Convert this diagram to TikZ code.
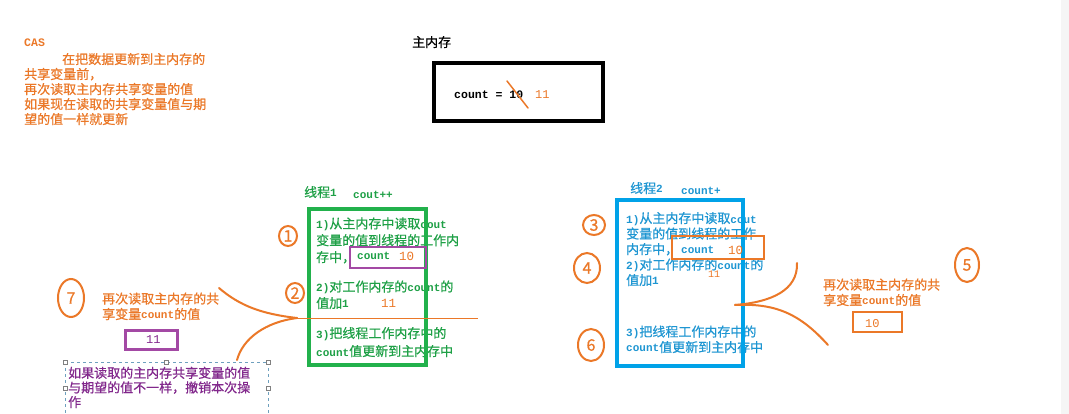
\documentclass[tikz,border=0pt]{standalone}
\usepackage{fontspec}
\setmainfont{Noto Sans CJK SC}[FakeBold=0.6]
\newfontfamily\monof{Liberation Mono}
\usetikzlibrary{shapes.geometric}
\definecolor{cOr}{RGB}{235,120,40}
\definecolor{cGr}{RGB}{34,177,76}
\definecolor{cGrT}{RGB}{30,160,70}
\definecolor{cBl}{RGB}{0,162,232}
\definecolor{cBlT}{RGB}{30,150,210}
\definecolor{cPu}{RGB}{163,73,164}
\definecolor{cPuT}{RGB}{130,40,140}
\definecolor{cSel}{RGB}{110,160,190}
\newcommand\lm[1]{{\monof\bfseries\fontsize{11}{11}\selectfont #1}}
\begin{document}
\begin{tikzpicture}[x=1pt,y=-1pt,
  txt/.style={anchor=base west, inner sep=0, align=left, font=\fontsize{13}{15.5}\selectfont},
  hand/.style={ellipse, draw=cOr, line width=2pt, text=cOr, inner sep=0,
     font=\fontsize{16}{16}\selectfont},
  stroke/.style={draw=cOr, line width=2pt, line cap=round},
  handle/.style={draw=gray, fill=white, line width=0.5pt, minimum size=4pt, inner sep=0, rectangle}]
\useasboundingbox (0,0) rectangle (1069,414);
\fill[white] (0,0) rectangle (1069,414);
\fill[gray!8] (1061,0) rectangle (1069,414);

% CAS explanation (multi-line nodes are placed at the baseline of their last line)
\node[txt, text=cOr, font=\monof\bfseries\fontsize{11.5}{11.5}\selectfont] (cas) at (24,47) {CAS};
\node[txt, text=cOr, font=\fontsize{13}{15}\selectfont] (casdesc) at (24,124) {\hspace*{38pt}在把数据更新到主内存的\\共享变量前，\\再次读取主内存共享变量的值\\如果现在读取的共享变量值与期\\望的值一样就更新};

% main memory
\node[txt] (mmtitle) at (412,47) {主内存};
\draw[line width=4pt] (434,63) rectangle (603,121);
\node[txt, font=\monof\bfseries\fontsize{11.5}{11.5}\selectfont] (mmcount) at (454,99) {count = 10};
\node[txt, text=cOr, font=\monof\fontsize{12}{12}\selectfont] (mm11) at (535,99) {11};
\coordinate (s1) at (507,81);
\coordinate (s2) at (528,108);
\draw[stroke, line width=1.5pt] (s1) -- (s2);

% thread 1
\node[txt, text=cGrT] (t1) at (304,197) {线程\lm{1}};
\node[txt, text=cGrT, font=\monof\bfseries\fontsize{11}{11}\selectfont] (t1op) at (353,199) {cout++};
\node[txt, text=cGrT, font=\fontsize{13}{16.8}\selectfont] (g1) at (316,262) {\lm{1)}从主内存中读取\lm{cout}\\变量的值到线程的工作内\\存中，};
\node[txt, text=cGrT, font=\fontsize{13}{16.5}\selectfont] (g2) at (316,308) {\lm{2)}对工作内存的\lm{count}的\\值加\lm{1}};
\node[txt, text=cGrT, font=\fontsize{13}{18}\selectfont] (g3) at (316,356) {\lm{3)}把线程工作内存中的\\\lm{count}值更新到主内存中};
\draw[cGr, line width=4pt] (309,209) rectangle (426,365);
\draw[cPu, line width=2.5pt] (350,247) rectangle (426,268);
\node[txt, text=cGrT, font=\monof\bfseries\fontsize{11}{11}\selectfont] (g1c) at (357,260) {count};
\node[txt, text=cOr, font=\monof\fontsize{12.5}{12.5}\selectfont] (g1v) at (399,261) {10};
\node[txt, text=cOr, font=\monof\fontsize{12.5}{12.5}\selectfont] (g2v) at (381,308) {11};
\coordinate (hl1) at (297,318);
\coordinate (hl2) at (478,318);
\draw[cOr, line width=0.8pt] (hl1) -- (hl2);

% thread 2
\node[txt, text=cBlT] (t2) at (630,193) {线程\lm{2}};
\node[txt, text=cBlT, font=\monof\bfseries\fontsize{11}{11}\selectfont] (t2op) at (681,195) {count+};
\node[txt, text=cBlT, font=\fontsize{13}{15.5}\selectfont] (b1) at (626,285) {\lm{1)}从主内存中读取\lm{cout}\\变量的值到线程的工作\\内存中，\\\lm{2)}对工作内存的\lm{count}的\\值加\lm{1}};
\node[txt, text=cBlT, font=\fontsize{13}{15.5}\selectfont] (b3) at (626,352) {\lm{3)}把线程工作内存中的\\\lm{count}值更新到主内存中};
\draw[cBl, line width=4pt] (617,200) rectangle (743,366);
\draw[cOr, line width=1.2pt] (672,236) rectangle (764,259);
\node[txt, text=cBlT, font=\monof\bfseries\fontsize{11}{11}\selectfont] (b1c) at (681,254) {count};
\node[txt, text=cOr, font=\monof\fontsize{12.5}{12.5}\selectfont] (b1v) at (728,255) {10};
\node[txt, text=cOr, font=\monof\fontsize{10}{10}\selectfont] (b2v) at (708,278) {11};

% right note
\node[txt, text=cOr] (rnote) at (823,305) {再次读取主内存的共\\享变量\lm{count}的值};
\draw[cOr, line width=1.3pt] (853,312) rectangle (902,332);
\node[txt, text=cOr, font=\monof\fontsize{12}{12}\selectfont] (rv) at (865,327) {10};

% left note
\node[txt, text=cOr] (lnote) at (102,319) {再次读取主内存的共\\享变量\lm{count}的值};
\draw[cPu, line width=3pt] (125,330) rectangle (177,349);
\node[txt, text=cPuT, font=\monof\fontsize{12}{12}\selectfont] (lv) at (146,343) {11};

% selected text box
\draw[cSel, dashed, line width=0.8pt] (65,362) -- (268,362);
\draw[cSel, dashed, line width=0.8pt] (65,362) -- (65,414);
\draw[cSel, dashed, line width=0.8pt] (268,362) -- (268,414);
\node[handle] (h1) at (65,362) {};
\node[handle] (h2) at (166,362) {};
\node[handle] (h3) at (268,362) {};
\node[handle] (h4) at (65,388) {};
\node[handle] (h5) at (268,388) {};
\node[txt, text=cPuT, font=\fontsize{13}{14.6}\selectfont] (fail) at (68,407) {如果读取的主内存共享变量的值\\与期望的值不一样，撤销本次操\\作};

% hand-drawn curves
\coordinate (lc1) at (219,288);
\coordinate (lc2) at (237,360);
\draw[stroke] (lc1) .. controls (240,306) and (262,314) .. (hl1);
\draw[stroke] (hl1) .. controls (266,322) and (243,338) .. (lc2);
\coordinate (rc0) at (735,305);
\coordinate (rc1) at (797,263);
\coordinate (rc2) at (828,345);
\draw[stroke] (rc1) .. controls (798,290) and (772,302) .. (rc0);
\draw[stroke] (rc0) .. controls (776,303) and (800,314) .. (rc2);

% circled numbers
\node[hand, minimum width=18pt, minimum height=20pt] (n1) at (288,236) {1};
\node[hand, minimum width=18pt, minimum height=20pt] (n2) at (295,293) {2};
\node[hand, minimum width=22pt, minimum height=20pt] (n3) at (594,225) {3};
\node[hand, minimum width=26pt, minimum height=30pt] (n4) at (587,268) {4};
\node[hand, minimum width=26pt, minimum height=32pt] (n6) at (591,345) {6};
\node[hand, minimum width=24pt, minimum height=34pt] (n5) at (967,265) {5};
\node[hand, minimum width=26pt, minimum height=38pt] (n7) at (71,298) {7};
\end{tikzpicture}
\end{document}
